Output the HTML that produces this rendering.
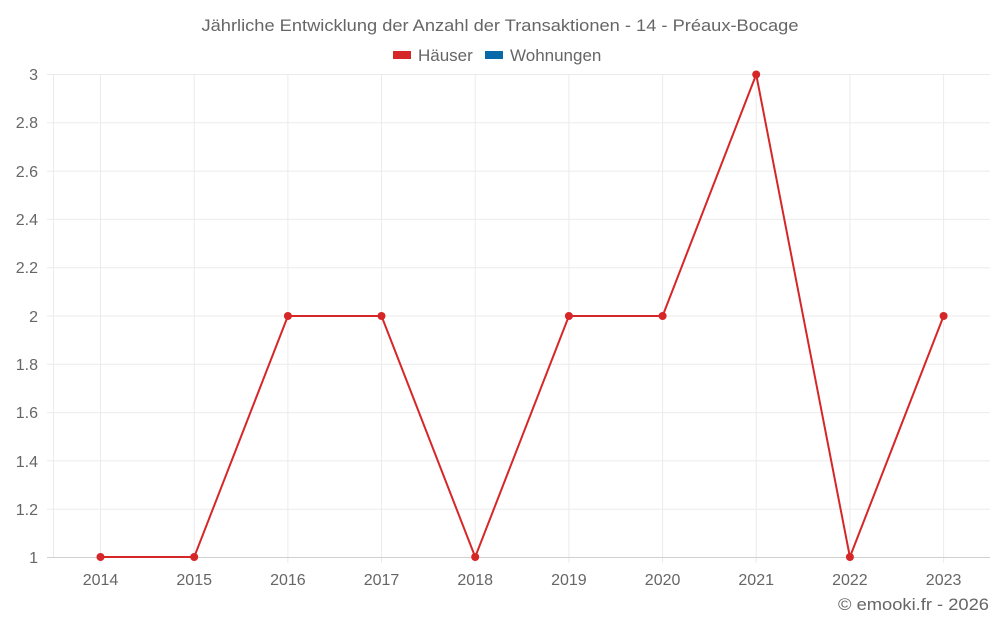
<!DOCTYPE html>
<html><head><meta charset="utf-8"><style>
body{margin:0;background:#fff;}
svg text{font-family:"Liberation Sans",sans-serif;fill:#666;}
</style></head><body>
<svg width="1000" height="625" xmlns="http://www.w3.org/2000/svg">
<text x="500" y="31" text-anchor="middle" font-size="17" textLength="597" lengthAdjust="spacingAndGlyphs">Jährliche Entwicklung der Anzahl der Transaktionen - 14 - Préaux-Bocage</text>
<rect x="393" y="51" width="18" height="8" fill="#d62728"/>
<text x="418" y="61" font-size="17">Häuser</text>
<rect x="485" y="51" width="18" height="8" fill="#0868a8"/>
<text x="510" y="61" font-size="17">Wohnungen</text>
<g stroke="#ebebeb" stroke-width="1">
<line x1="47" x2="990" y1="74.5" y2="74.5"/><line x1="47" x2="990" y1="122.8" y2="122.8"/><line x1="47" x2="990" y1="171.1" y2="171.1"/><line x1="47" x2="990" y1="219.4" y2="219.4"/><line x1="47" x2="990" y1="267.7" y2="267.7"/><line x1="47" x2="990" y1="316" y2="316"/><line x1="47" x2="990" y1="364.3" y2="364.3"/><line x1="47" x2="990" y1="412.6" y2="412.6"/><line x1="47" x2="990" y1="460.9" y2="460.9"/><line x1="47" x2="990" y1="509.2" y2="509.2"/>
<line x1="53.5" x2="53.5" y1="74" y2="557"/>
<line x1="100.5" x2="100.5" y1="74" y2="563"/><line x1="194.2" x2="194.2" y1="74" y2="563"/><line x1="287.9" x2="287.9" y1="74" y2="563"/><line x1="381.5" x2="381.5" y1="74" y2="563"/><line x1="475.2" x2="475.2" y1="74" y2="563"/><line x1="568.9" x2="568.9" y1="74" y2="563"/><line x1="662.6" x2="662.6" y1="74" y2="563"/><line x1="756.2" x2="756.2" y1="74" y2="563"/><line x1="849.9" x2="849.9" y1="74" y2="563"/><line x1="943.6" x2="943.6" y1="74" y2="563"/>
</g>
<line x1="47" x2="990" y1="557.5" y2="557.5" stroke="#d0d0d0"/>
<g font-size="16" text-anchor="end">
<text x="38" y="80">3</text><text x="38" y="128">2.8</text><text x="38" y="177">2.6</text><text x="38" y="225">2.4</text><text x="38" y="273">2.2</text><text x="38" y="322">2</text><text x="38" y="370">1.8</text><text x="38" y="418">1.6</text><text x="38" y="467">1.4</text><text x="38" y="515">1.2</text><text x="38" y="563">1</text>
</g>
<g font-size="16" text-anchor="middle">
<text x="100.5" y="585">2014</text><text x="194.2" y="585">2015</text><text x="287.9" y="585">2016</text><text x="381.5" y="585">2017</text><text x="475.2" y="585">2018</text><text x="568.9" y="585">2019</text><text x="662.6" y="585">2020</text><text x="756.2" y="585">2021</text><text x="849.9" y="585">2022</text><text x="943.6" y="585">2023</text>
</g>
<polyline fill="none" stroke="#d62728" stroke-width="2" points="100.5,557 194.2,557 287.9,316 381.5,316 475.2,557 568.9,316 662.6,316 756.2,74.5 849.9,557 943.6,316"/>
<g fill="#d62728">
<circle cx="100.5" cy="557" r="4"/><circle cx="194.2" cy="557" r="4"/><circle cx="287.9" cy="316" r="4"/><circle cx="381.5" cy="316" r="4"/><circle cx="475.2" cy="557" r="4"/><circle cx="568.9" cy="316" r="4"/><circle cx="662.6" cy="316" r="4"/><circle cx="756.2" cy="74.5" r="4"/><circle cx="849.9" cy="557" r="4"/><circle cx="943.6" cy="316" r="4"/>
</g>
<text x="989" y="610" text-anchor="end" font-size="17" textLength="151" lengthAdjust="spacingAndGlyphs">© emooki.fr - 2026</text>
</svg>
</body></html>
